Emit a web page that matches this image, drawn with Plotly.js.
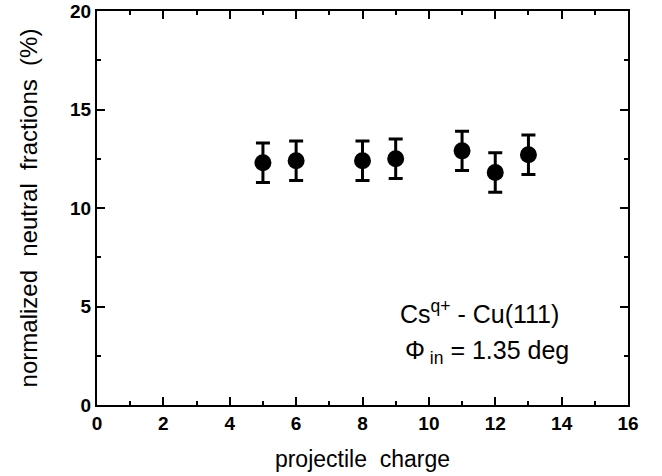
<!DOCTYPE html>
<html>
<head>
<meta charset="utf-8">
<script src="https://cdn.plot.ly/plotly-3.0.1.min.js"></script>
<style>html,body{margin:0;padding:0;background:#fff;}#chart{width:662px;height:476px;}</style>
</head>
<body>
<div id="chart"></div>
<script>
const charges = [5, 6, 8, 9, 11, 12, 13];
const fractions = [12.3, 12.4, 12.4, 12.5, 12.9, 11.8, 12.7];
const errors = [1.0, 1.0, 1.0, 1.0, 1.0, 1.0, 1.0];
const xTicks = [0, 2, 4, 6, 8, 10, 12, 14, 16];
const yTicks = [0, 5, 10, 15, 20];

const font = "Liberation Sans, Arial, sans-serif";
const trace = {
  x: charges, y: fractions, type: 'scatter', mode: 'markers',
  marker: {color: '#000', size: 17},
  error_y: {type: 'data', array: errors, visible: true, color: '#000', thickness: 3, width: 7},
  showlegend: false
};
const axBase = {
  showline: true, linecolor: '#000', linewidth: 2, mirror: 'ticks',
  ticks: 'inside', ticklen: 8, tickwidth: 2, tickcolor: '#000',
  showgrid: false, zeroline: false,
  tickfont: {family: font, size: 19, color: '#000', weight: 'bold'}
};
const layout = {
  width: 662, height: 476,
  margin: {l: 97, r: 34, t: 11, b: 71},
  paper_bgcolor: '#fff', plot_bgcolor: '#fff',
  xaxis: Object.assign({}, axBase, {
    range: [0, 16], tickvals: xTicks,
    minor: {dtick: 1, ticks: 'inside', ticklen: 4, tickwidth: 2, tickcolor: '#000', tick0: 0},
    title: {text: 'projectile  charge', font: {family: font, size: 23, color: '#000'}, standoff: 18}
  }),
  yaxis: Object.assign({}, axBase, {
    range: [0, 20], tickvals: yTicks,
    minor: {dtick: 2.5, ticks: 'inside', ticklen: 4, tickwidth: 2, tickcolor: '#000', tick0: 0},
    title: {text: 'normalized  neutral  fractions  (%)', font: {family: font, size: 24, color: '#000'}, standoff: 26}
  }),
  annotations: [
    {x: 11.54, y: 4.7, xref: 'x', yref: 'y', showarrow: false,
     text: 'Cs<sup>q+</sup> - Cu(111)', font: {family: font, size: 25, color: '#000'}},
    {x: 11.75, y: 2.7, xref: 'x', yref: 'y', showarrow: false,
     text: 'Φ<sub> in</sub> = 1.35 deg', font: {family: font, size: 25, color: '#000'}}
  ]
};
Plotly.newPlot('chart', [trace], layout, {displayModeBar: false, staticPlot: true});
</script>
</body>
</html>
